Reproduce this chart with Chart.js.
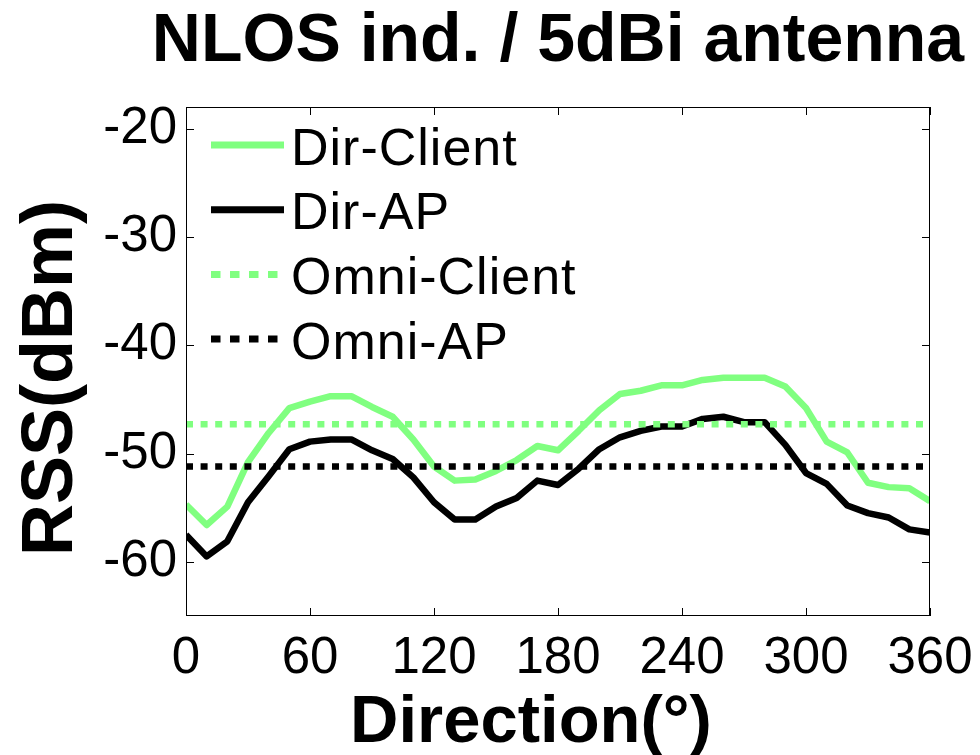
<!DOCTYPE html>
<html>
<head>
<meta charset="utf-8">
<script src="https://cdn.jsdelivr.net/npm/chart.js@4.4.1/dist/chart.umd.min.js"></script>
<style>
  html, body { margin: 0; padding: 0; background: #ffffff; }
  #wrap { width: 980px; height: 755px; }
</style>
</head>
<body>
<div id="wrap"><canvas id="c" width="980" height="755"></canvas></div>
<script>
// ---- data ----
const directions = [0,10,20,30,40,50,60,70,80,90,100,110,120,130,140,150,160,170,180,
                    190,200,210,220,230,240,250,260,270,280,290,300,310,320,330,340,350,360];
const dirClient = [-54.7,-56.6,-54.9,-50.8,-48.1,-45.8,-45.2,-44.7,-44.7,-45.7,-46.6,-48.7,-51.2,
                   -52.5,-52.4,-51.6,-50.6,-49.3,-49.7,-47.9,-46.0,-44.5,-44.2,-43.7,-43.7,-43.2,
                   -43.0,-43.0,-43.0,-43.8,-45.8,-48.9,-49.9,-52.7,-53.1,-53.2,-54.4];
const dirAP = [-57.5,-59.5,-58.1,-54.5,-52.1,-49.6,-48.9,-48.7,-48.7,-49.7,-50.5,-52.2,-54.5,
               -56.1,-56.1,-54.9,-54.1,-52.5,-52.9,-51.4,-49.6,-48.5,-47.9,-47.5,-47.5,-46.8,
               -46.6,-47.1,-47.1,-49.2,-51.8,-52.8,-54.8,-55.5,-55.9,-57.0,-57.3];
const omniClient = -47.3;
const omniAP = -51.2;
const seriesLabels = ['Dir-Client', 'Dir-AP', 'Omni-Client', 'Omni-AP'];
const xTickValues = [0, 60, 120, 180, 240, 300, 360];
const yTickValues = [-60, -50, -40, -30, -20];
const titleText = 'NLOS ind. / 5dBi antenna';
const xTitleText = 'Direction(\u00B0)';
const yTitleText = 'RSS(dBm)';

const GREEN = 'rgb(128,255,128)';
const BLACK = '#000000';
const FONT = '"Liberation Sans", Arial, Helvetica, sans-serif';

function pairs(xs, ys) { return xs.map((x, i) => ({ x: x, y: ys[i] })); }
function flat(v) { return [{ x: directions[0], y: v }, { x: directions[directions.length - 1], y: v }]; }

const datasets = [
  { label: seriesLabels[0], data: pairs(directions, dirClient), borderColor: GREEN, borderWidth: 6.5, order: 4, legendDash: [] },
  { label: seriesLabels[1], data: pairs(directions, dirAP), borderColor: BLACK, borderWidth: 6.5, order: 3, legendDash: [] },
  { label: seriesLabels[2], data: flat(omniClient), borderColor: GREEN, borderWidth: 6.5, borderDash: [7, 7.6], order: 2, legendDash: [9.5, 9.5] },
  { label: seriesLabels[3], data: flat(omniAP), borderColor: BLACK, borderWidth: 6.5, borderDash: [7, 7.6], order: 1, legendDash: [9.5, 9.5] }
].map(d => Object.assign({ pointRadius: 0, pointHoverRadius: 0, tension: 0, fill: false,
                           borderCapStyle: 'butt', borderJoinStyle: 'round' }, d));

const decorations = {
  id: 'decorations',
  afterDraw(chart) {
    const ctx = chart.ctx;
    const a = chart.chartArea;
    const xs = chart.scales.x, ys = chart.scales.y;
    ctx.save();
    // frame
    ctx.strokeStyle = '#000';
    ctx.lineWidth = 1;
    ctx.setLineDash([]);
    ctx.strokeRect(Math.round(a.left) + 0.5, Math.round(a.top) + 0.5,
                   Math.round(a.right - a.left) - 1, Math.round(a.bottom - a.top) - 1);
    // inward ticks on all sides
    const tl = 8;
    ctx.beginPath();
    xTickValues.forEach(v => {
      const px = Math.round(xs.getPixelForValue(v)) + 0.5;
      ctx.moveTo(px, a.bottom); ctx.lineTo(px, a.bottom - tl);
      ctx.moveTo(px, a.top); ctx.lineTo(px, a.top + tl);
    });
    yTickValues.forEach(v => {
      const py = Math.round(ys.getPixelForValue(v)) + 0.5;
      ctx.moveTo(a.left, py); ctx.lineTo(a.left + tl, py);
      ctx.moveTo(a.right, py); ctx.lineTo(a.right - tl, py);
    });
    ctx.stroke();

    // title
    ctx.fillStyle = '#000';
    ctx.textAlign = 'center';
    ctx.textBaseline = 'alphabetic';
    ctx.font = 'bold 68px ' + FONT;
    ctx.fillText(titleText, (a.left + a.right) / 2, 61);
    // x title
    ctx.font = 'bold 67px ' + FONT;
    ctx.fillText(xTitleText, 531, 742);
    // y title
    ctx.save();
    ctx.translate(72, 378);
    ctx.rotate(-Math.PI / 2);
    ctx.font = 'bold 72px ' + FONT;
    ctx.fillText(yTitleText, 0, 0);
    ctx.restore();

    // legend
    const rowY = [145, 209.7, 274.4, 339.1];
    chart.data.datasets.forEach((ds, i) => {
      const y = rowY[i];
      ctx.save();
      ctx.strokeStyle = ds.borderColor;
      ctx.lineWidth = 7;
      ctx.lineCap = 'butt';
      ctx.setLineDash(ds.legendDash);
      ctx.beginPath();
      ctx.moveTo(211, y);
      ctx.lineTo(ds.legendDash.length ? 277.5 : 284, y);
      ctx.stroke();
      ctx.restore();
      ctx.save();
      ctx.fillStyle = '#000';
      ctx.textAlign = 'left';
      ctx.textBaseline = 'alphabetic';
      ctx.font = '52px ' + FONT;
      if ('letterSpacing' in ctx) ctx.letterSpacing = '1px';
      ctx.fillText(ds.label, 291, y + 19.5);
      ctx.restore();
    });
    ctx.restore();
  }
};

new Chart(document.getElementById('c'), {
  type: 'line',
  data: { datasets: datasets },
  options: {
    responsive: false,
    devicePixelRatio: 1,
    animation: false,
    events: [],
    layout: { padding: { top: 107, right: 50, left: 0, bottom: 0 } },
    plugins: { legend: { display: false }, title: { display: false }, tooltip: { enabled: false } },
    scales: {
      x: {
        type: 'linear', min: 0, max: 360,
        afterBuildTicks: s => { s.ticks = xTickValues.map(v => ({ value: v })); },
        afterFit: s => { s.height = 139; s.paddingLeft = 0; s.paddingRight = 0; },
        grid: { display: false, drawTicks: false, tickLength: 0 },
        border: { display: false },
        ticks: { color: '#000', padding: 12, maxRotation: 0, autoSkip: false,
                 font: { family: FONT, size: 51 } }
      },
      y: {
        type: 'linear', min: -65, max: -18,
        afterBuildTicks: s => { s.ticks = yTickValues.map(v => ({ value: v })); },
        afterFit: s => { s.width = 186; s.paddingTop = 0; s.paddingBottom = 0; },
        grid: { display: false, drawTicks: false, tickLength: 0 },
        border: { display: false },
        ticks: { color: '#000', padding: 9, autoSkip: false,
                 font: { family: FONT, size: 51 } }
      }
    }
  },
  plugins: [decorations]
});
</script>
</body>
</html>
